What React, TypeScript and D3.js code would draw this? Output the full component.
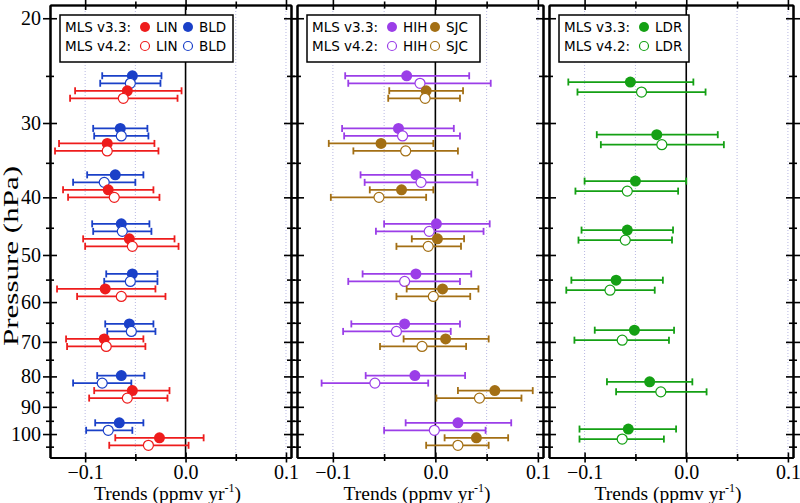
import React, { useRef, useEffect } from 'react';
import * as d3 from 'd3';

// pressure (hPa) of each group of trends
const levels = [26.1, 32.0, 38.3, 46.3, 56.2, 68.2, 83.3, 100];

// [trend, lower, upper] in ppmv/yr, one row per level
const linV33 = [
  [-0.058, -0.110, -0.004], [-0.078, -0.126, -0.031], [-0.077, -0.122, -0.032], [-0.056, -0.102, -0.011],
  [-0.080, -0.128, -0.030], [-0.081, -0.119, -0.042], [-0.053, -0.091, -0.016], [-0.026, -0.070, 0.018],
];
const linV42 = [
  [-0.062, -0.115, -0.008], [-0.078, -0.130, -0.027], [-0.071, -0.117, -0.026], [-0.053, -0.100, -0.007],
  [-0.064, -0.108, -0.020], [-0.079, -0.118, -0.040], [-0.058, -0.096, -0.018], [-0.037, -0.076, 0.003],
];
const bldV33 = [
  [-0.053, -0.083, -0.024], [-0.065, -0.092, -0.038], [-0.070, -0.098, -0.042], [-0.064, -0.093, -0.036],
  [-0.053, -0.079, -0.028], [-0.056, -0.080, -0.032], [-0.064, -0.088, -0.041], [-0.066, -0.090, -0.042],
];
const bldV42 = [
  [-0.055, -0.085, -0.025], [-0.064, -0.091, -0.037], [-0.081, -0.112, -0.050], [-0.063, -0.092, -0.034],
  [-0.055, -0.081, -0.028], [-0.054, -0.078, -0.030], [-0.083, -0.112, -0.054], [-0.077, -0.099, -0.053],
];
const hihV33 = [
  [-0.028, -0.088, 0.033], [-0.036, -0.091, 0.018], [-0.019, -0.073, 0.036], [0.001, -0.050, 0.053],
  [-0.019, -0.071, 0.035], [-0.030, -0.082, 0.024], [-0.020, -0.068, 0.029], [0.022, -0.029, 0.074],
];
const hihV42 = [
  [-0.015, -0.085, 0.054], [-0.032, -0.089, 0.024], [-0.014, -0.069, 0.041], [-0.006, -0.058, 0.047],
  [-0.030, -0.085, 0.024], [-0.038, -0.090, 0.015], [-0.059, -0.111, -0.007], [-0.001, -0.050, 0.049],
];
const sjcV33 = [
  [-0.009, -0.045, 0.027], [-0.053, -0.104, -0.002], [-0.033, -0.064, -0.002], [0.002, -0.023, 0.028],
  [0.007, -0.028, 0.042], [0.010, -0.031, 0.052], [0.058, 0.022, 0.095], [0.040, 0.009, 0.071],
];
const sjcV42 = [
  [-0.010, -0.046, 0.024], [-0.029, -0.080, 0.022], [-0.055, -0.102, -0.009], [-0.007, -0.038, 0.025],
  [-0.002, -0.038, 0.034], [-0.013, -0.054, 0.030], [0.043, 0.001, 0.084], [0.022, -0.009, 0.052],
];
const ldrV33 = [
  [-0.055, -0.116, 0.007], [-0.029, -0.088, 0.031], [-0.050, -0.100, 0.000], [-0.058, -0.103, -0.013],
  [-0.069, -0.113, -0.023], [-0.051, -0.090, -0.012], [-0.036, -0.078, 0.006], [-0.057, -0.105, -0.010],
];
const ldrV42 = [
  [-0.044, -0.107, 0.019], [-0.024, -0.084, 0.037], [-0.058, -0.109, -0.008], [-0.060, -0.106, -0.014],
  [-0.075, -0.118, -0.031], [-0.063, -0.110, -0.017], [-0.025, -0.069, 0.020], [-0.063, -0.105, -0.022],
];

const yMajor = [20, 30, 40, 50, 60, 70, 80, 90, 100];
const yMinor = [25, 35, 45, 55, 65, 75, 85, 95, 105];
const xMajor = [-0.1, 0.0, 0.1];
const xMinor = [-0.05, 0.05];
const xGrid = [-0.1, -0.05, 0.05, 0.1];

const stations: Record<string, { color: string; v33: number[][]; v42: number[][] }> = {
  LIN: { color: '#ee1c1c', v33: linV33, v42: linV42 },
  BLD: { color: '#1a40c8', v33: bldV33, v42: bldV42 },
  HIH: { color: '#9b3ee8', v33: hihV33, v42: hihV42 },
  SJC: { color: '#a36f14', v33: sjcV33, v42: sjcV42 },
  LDR: { color: '#14a014', v33: ldrV33, v42: ldrV42 },
};

const panels = [
  { bounds: [50, 291], legend: ['LIN', 'BLD'], rows: ['BLD', 'LIN'] },
  { bounds: [297, 543], legend: ['HIH', 'SJC'], rows: ['HIH', 'SJC'] },
  { bounds: [549, 793], legend: ['LDR'], rows: ['LDR'] },
];

const SERIF = '"Liberation Serif", "Times New Roman", serif';
const SANS = '"DejaVu Sans", Verdana, sans-serif';

const App = () => {
  const ref = useRef<SVGSVGElement>(null);

  useEffect(() => {
    const width = 800;
    const height = 503;
    const top = 5;
    const bottom = 457.5;

    const svg = d3.select(ref.current);
    svg.selectAll('*').remove();

    const y = d3.scaleLog().domain([19, 109.5]).range([top, bottom]);

    panels.forEach((p, pi) => {
      const [left, right] = p.bounds;
      const x = d3.scaleLinear().domain([-0.135, 0.105]).range([left, right]);
      const g = svg.append('g');

      // dotted grid
      g.selectAll('line.grid')
        .data(xGrid)
        .join('line')
        .attr('class', 'grid')
        .attr('x1', d => x(d)).attr('x2', d => x(d))
        .attr('y1', top).attr('y2', bottom)
        .attr('stroke', '#b8b8e2')
        .attr('stroke-width', 1)
        .attr('stroke-dasharray', '1,2');

      // zero line
      g.append('line')
        .attr('x1', x(0)).attr('x2', x(0))
        .attr('y1', top).attr('y2', bottom)
        .attr('stroke', '#000')
        .attr('stroke-width', 1.6);

      // trends with error bars
      const n = p.rows.length;
      const gap = n === 2 ? 7.5 : 10;
      p.rows.forEach((name, si) => {
        const st = stations[name];
        [st.v33, st.v42].forEach((vals, vi) => {
          const slot = si * 2 + vi;
          const off = (slot - (2 * n - 1) / 2) * gap;
          const sg = g.append('g');
          vals.forEach((v, li) => {
            const cy = y(levels[li]) + off;
            sg.append('line')
              .attr('x1', x(v[1])).attr('x2', x(v[2]))
              .attr('y1', cy).attr('y2', cy)
              .attr('stroke', st.color).attr('stroke-width', 1.8);
            [v[1], v[2]].forEach(e => {
              sg.append('line')
                .attr('x1', x(e)).attr('x2', x(e))
                .attr('y1', cy - 3.5).attr('y2', cy + 3.5)
                .attr('stroke', st.color).attr('stroke-width', 1.8);
            });
            sg.append('circle')
              .attr('cx', x(v[0])).attr('cy', cy)
              .attr('r', vi === 0 ? 5.5 : 5)
              .attr('fill', vi === 0 ? st.color : '#fff')
              .attr('stroke', st.color)
              .attr('stroke-width', vi === 0 ? 0 : 1.2);
          });
        });
      });

      const styleAxis = (sel: any) => {
        sel.selectAll('line').attr('stroke-width', 1.6);
        sel.selectAll('path').attr('stroke-width', 1.6);
        sel.attr('font-family', SERIF).attr('font-size', 20).attr('fill', '#000');
      };

      // x axes, top and bottom, ticks crossing the frame
      [[d3.axisBottom, bottom], [d3.axisTop, top]].forEach(([axisFn, ty]: any) => {
        [[xMajor, 5], [xMinor, 3.5]].forEach(([vals, size]: any) => {
          [size, -size].forEach((s, k) => {
            const a = axisFn(x).tickValues(vals).tickSize(s).tickSizeOuter(0).tickPadding(2)
              .tickFormat(axisFn === d3.axisBottom && k === 0 && vals === xMajor ? d3.format('.1f') : () => '');
            g.append('g').attr('transform', `translate(0,${ty})`).call(a).call(styleAxis);
          });
        });
      });

      // y axes, left and right
      [[d3.axisLeft, left], [d3.axisRight, right]].forEach(([axisFn, tx]: any) => {
        [[yMajor, 7], [yMinor, 4]].forEach(([vals, size]: any) => {
          [size, -size].forEach((s, k) => {
            const labelled = pi === 0 && axisFn === d3.axisLeft && k === 0 && vals === yMajor;
            const a = axisFn(y).tickValues(vals).tickSize(s).tickSizeOuter(0).tickPadding(2)
              .tickFormat(labelled ? d3.format('d') : () => '');
            g.append('g').attr('transform', `translate(${tx},0)`).call(a).call(styleAxis);
          });
        });
      });

      // x title
      const tt = g.append('text')
        .attr('x', (left + right) / 2 - 3)
        .attr('y', 499.5)
        .attr('text-anchor', 'middle')
        .attr('font-family', SERIF)
        .attr('font-size', 19.5)
        .text('Trends (ppmv yr');
      tt.append('tspan').attr('font-size', 12).attr('dy', -8).text('-1');
      tt.append('tspan').attr('dy', 8).text(')');

      // legend
      const bx = left + 10;
      const by = 15;
      const bw = n === 2 ? 173 : 130;
      const lg = g.append('g');
      lg.append('rect')
        .attr('x', bx).attr('y', by).attr('width', bw).attr('height', 47)
        .attr('fill', '#fff').attr('stroke', '#000').attr('stroke-width', 1.5);
      ['MLS v3.3:', 'MLS v4.2:'].forEach((lbl, ri) => {
        const ty = by + 17 + ri * 19;
        lg.append('text')
          .attr('x', bx + 5).attr('y', ty)
          .attr('font-family', SANS).attr('font-size', 13.5)
          .text(lbl);
        p.legend.forEach((name, ni) => {
          const st = stations[name];
          const mx = bx + 85 + ni * 43;
          lg.append('circle')
            .attr('cx', mx).attr('cy', ty - 5)
            .attr('r', ri === 0 ? 5 : 4.5)
            .attr('fill', ri === 0 ? st.color : '#fff')
            .attr('stroke', st.color)
            .attr('stroke-width', ri === 0 ? 0 : 1.2);
          lg.append('text')
            .attr('x', mx + 11).attr('y', ty)
            .attr('font-family', SANS).attr('font-size', 13.5)
            .text(name);
        });
      });
    });

    // y title
    svg.append('text')
      .attr('transform', 'translate(18,256) rotate(-90)')
      .attr('text-anchor', 'middle')
      .attr('font-family', SERIF)
      .attr('font-size', 21)
      .attr('textLength', 180)
      .attr('lengthAdjust', 'spacingAndGlyphs')
      .text('Pressure (hPa)');

    svg.attr('width', width).attr('height', height);
  }, []);

  return (
    <svg
      ref={ref}
      width={800}
      height={503}
      style={{ position: 'absolute', left: 0, top: 0, background: '#fff' }}
    />
  );
};

export default App;
